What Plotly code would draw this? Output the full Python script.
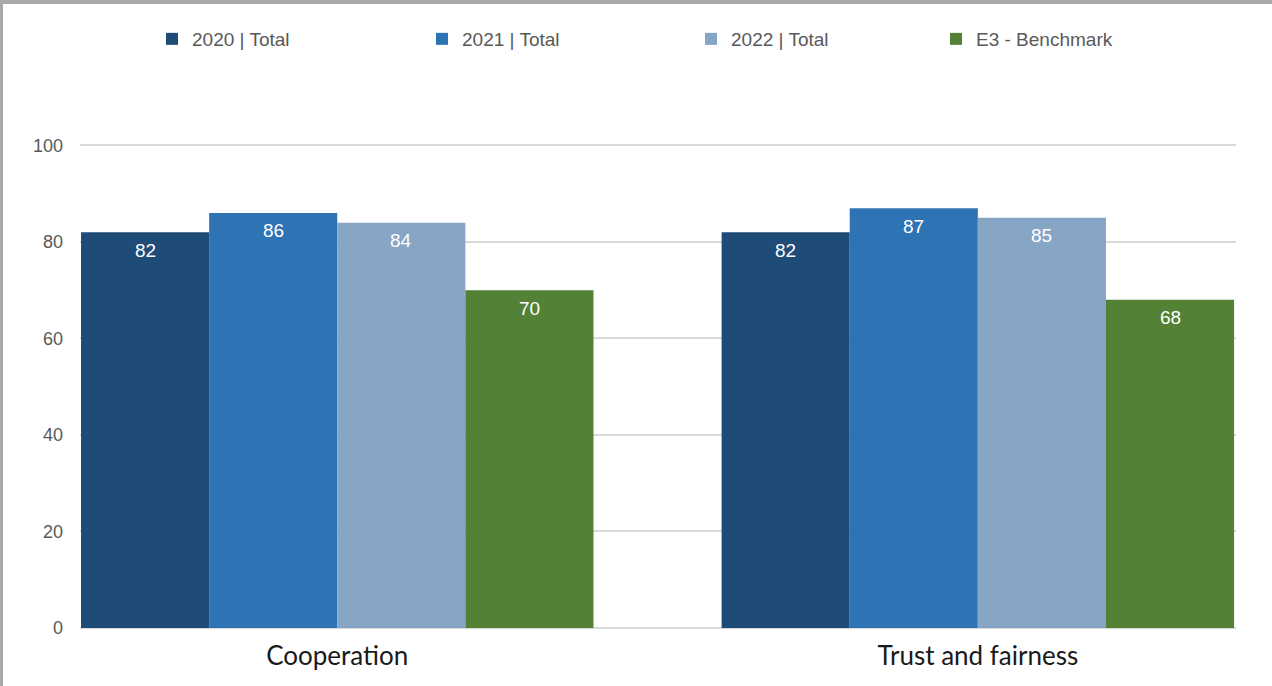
import plotly.graph_objects as go

categories = ["Cooperation", "Trust and fairness"]
series_names = ["2020 | Total", "2021 | Total", "2022 | Total", "E3 - Benchmark"]
values_2020 = [82, 82]
values_2021 = [86, 87]
values_2022 = [84, 85]
values_e3 = [70, 68]
y_ticks = [0, 20, 40, 60, 80, 100]

series_values = [values_2020, values_2021, values_2022, values_e3]
colors = ["#1f4b77", "#2e74b5", "#87a5c4", "#538135"]

W, H = 1272, 686
ML, MR, MT, MB = 80, 36, 143, 58
PW = W - ML - MR
PH = H - MT - MB
Y_TOP = 100.5
BARGAP = 0.2

fig = go.Figure()
legend_ids = ["legend", "legend2", "legend3", "legend4"]
for name, vals, col, lg in zip(series_names, series_values, colors, legend_ids):
    fig.add_trace(go.Bar(
        x=categories, y=vals, name=name, legend=lg,
        marker=dict(color=col, line=dict(width=0)),
        textposition="none",
    ))

# value labels sit just below the top of each bar
n_series = len(series_values)
bar_w = (1 - BARGAP) / n_series
annotations = []
for i, vals in enumerate(series_values):
    for j, v in enumerate(vals):
        annotations.append(dict(
            x=j + (i - (n_series - 1) / 2) * bar_w, y=v, xref="x", yref="y",
            text=str(v), showarrow=False, yshift=-18,
            font=dict(family="Liberation Sans, Arial", size=19, color="#ffffff"),
        ))

# legend entry positions along the top (pixels from the left edge)
legend_px = [152, 422, 691, 936]
legend_font = dict(family="Liberation Sans, Arial", size=19, color="#595959")
layout_legends = {}
for lg, px in zip(legend_ids, legend_px):
    layout_legends[lg] = dict(
        x=(px - ML) / PW, xanchor="left",
        y=1 + (MT - 39) / PH, yanchor="middle",
        orientation="h", font=legend_font, bgcolor="rgba(0,0,0,0)",
        itemwidth=30, tracegroupgap=0,
    )


def px_x(p):
    return (p - ML) / PW


def px_y(p):
    return 1 - (p - MT) / PH


frame = "#a9a9a9"
shapes = [
    dict(type="rect", xref="paper", yref="paper", x0=px_x(0), x1=px_x(W),
         y0=px_y(4), y1=px_y(0), fillcolor=frame, line=dict(width=0), layer="above"),
    dict(type="rect", xref="paper", yref="paper", x0=px_x(0), x1=px_x(3),
         y0=px_y(H), y1=px_y(0), fillcolor=frame, line=dict(width=0), layer="above"),
]

fig.update_layout(
    width=W, height=H,
    margin=dict(l=ML, r=MR, t=MT, b=MB, autoexpand=False),
    paper_bgcolor="#ffffff", plot_bgcolor="#ffffff",
    barmode="group", bargap=BARGAP, bargroupgap=0,
    showlegend=True,
    shapes=shapes,
    annotations=annotations,
    **layout_legends,
)
fig.update_xaxes(
    range=[-0.4016, 1.403],
    showgrid=False, showline=False, ticks="",
    tickfont=dict(family="Lato, Carlito, Calibri, sans-serif", size=26, color="#1a1a1a"),
    ticklabelstandoff=10,
)
fig.update_yaxes(
    range=[0, Y_TOP], tickvals=y_ticks,
    showgrid=True, gridcolor="#d9d9d9", gridwidth=1.5,
    zeroline=True, zerolinecolor="#d9d9d9", zerolinewidth=1.5,
    showline=False, ticks="",
    tickfont=dict(family="Liberation Sans, Arial", size=18, color="#595959"),
    ticklabelstandoff=16,
)

fig.write_html("out.html")
